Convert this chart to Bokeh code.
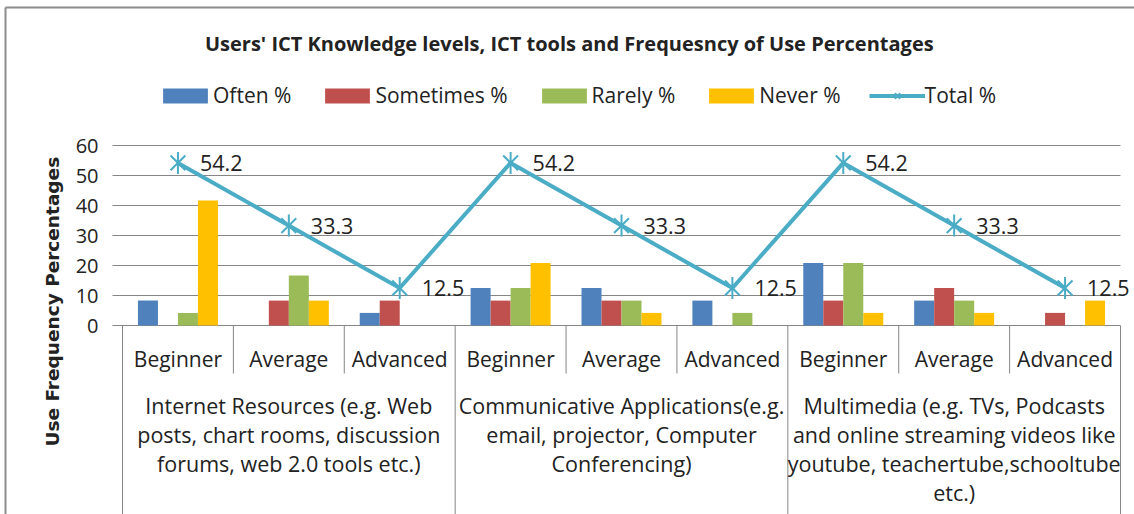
import math
from bokeh.plotting import figure
from bokeh.models import Range1d, Legend, LegendItem
from bokeh.core.properties import value
from bokeh.embed import file_html
from bokeh.resources import INLINE

# ---------------- data ----------------
title = "Users' ICT Knowledge levels, ICT tools and  Frequesncy  of Use Percentages"
y_title = "Use Frequency  Percentages"
groups = [
    "Internet Resources (e.g. Web\nposts, chart rooms, discussion\nforums, web 2.0 tools etc.)",
    "Communicative Applications(e.g.\nemail, projector, Computer\nConferencing)",
    "Multimedia (e.g. TVs, Podcasts\nand online streaming videos like\nyoutube, teachertube,schooltube\netc.)",
]
levels = ["Beginner", "Average", "Advanced"]
series_names = ["Often %", "Sometimes %", "Rarely %", "Never %"]
often = [8.3, 0, 4.2, 12.5, 12.5, 8.3, 20.8, 8.3, 0]
sometimes = [0, 8.3, 8.3, 8.3, 8.3, 0, 8.3, 12.5, 4.2]
rarely = [4.2, 16.7, 0, 12.5, 8.3, 4.2, 20.8, 8.3, 0]
never = [41.7, 8.3, 0, 20.8, 4.2, 0, 4.2, 4.2, 8.3]
total = [54.2, 33.3, 12.5, 54.2, 33.3, 12.5, 54.2, 33.3, 12.5]
y_ticks = [0, 10, 20, 30, 40, 50, 60]

colors = ["#4F81BD", "#C0504D", "#9BBB59", "#FFC000"]
total_color = "#4BACC6"
grid_color = "#868686"
text_color = "#222222"
FONT = "Open Sans"

# ---------------- geometry (page pixels) ----------------
W, H = 1134, 514
FL, FT = 5, 7                 # outer border left / top
PL, PR = 122, 1120            # plot area left / right
P0 = 325                      # y = 0 line
PPU = 3.0                     # px per y unit
n_cat = len(levels) * len(groups)
xu = (PR - PL) / n_cat        # px per category


def fx(ix):
    return (ix - PL) / xu


def fy(iy):
    return (P0 - iy) / PPU


p = figure(width=W, height=H, output_backend="svg", toolbar_location=None,
           x_range=Range1d(fx(0), fx(W)), y_range=Range1d(fy(H), fy(0)),
           min_border=0)
p.axis.visible = False
p.xgrid.visible = False
p.ygrid.visible = False
p.outline_line_color = None
p.background_fill_color = "white"

# outer chart border (left and top edges visible)
p.segment(x0=[fx(FL), fx(FL)], x1=[fx(FL), fx(W + 10)], y0=[fy(FT), fy(FT)],
          y1=[fy(H + 10), fy(FT)], line_color="#8c8c8c", line_width=2)

centers = [i + 0.5 for i in range(n_cat)]

# gridlines (with outside tick stubs)
p.segment(x0=[fx(112)] * len(y_ticks), x1=[n_cat] * len(y_ticks), y0=y_ticks, y1=y_ticks,
          line_color=grid_color, line_width=1)
# tick labels
p.text(x=[fx(98)] * len(y_ticks), y=y_ticks, text=[str(t) for t in y_ticks],
       text_align="right", text_baseline="middle", text_font=value(FONT),
       text_font_size="20px", text_color=text_color)

# category separators
inner = [i for i in range(1, n_cat) if i % len(levels) != 0]
outer = [i for i in range(0, n_cat + 1) if i % len(levels) == 0]
p.segment(x0=inner, x1=inner, y0=[0] * len(inner), y1=[fy(373)] * len(inner),
          line_color=grid_color, line_width=1)
p.segment(x0=outer, x1=outer, y0=[0] * len(outer), y1=[fy(520)] * len(outer),
          line_color=grid_color, line_width=1)

# bars
bw = 20 / xu
series = [often, sometimes, rarely, never]
bar_renderers = []
for k, (vals, col) in enumerate(zip(series, colors)):
    off = (k - 1.5) * bw
    r = p.vbar(x=[c + off for c in centers], top=vals, bottom=0, width=bw,
               fill_color=col, line_color=None)
    bar_renderers.append(r)

# total line
lr = p.line(centers, total, line_color=total_color, line_width=4)
m1 = p.scatter(centers, total, marker="x", size=21, line_color=total_color, line_width=2)
m2 = p.scatter(centers, total, marker="dash", angle=math.pi / 2, size=22,
               line_color=total_color, line_width=2)
p.text(x=centers, y=total, text=[f"{v:.1f}" for v in total], x_offset=22,
       text_baseline="middle", text_font=value(FONT), text_font_size="21.5px",
       text_color=text_color)

# level labels
p.text(x=centers, y=[fy(358)] * n_cat, text=levels * len(groups),
       text_align="center", text_baseline="middle", text_font=value(FONT),
       text_font_size="21px", text_color=text_color)

# group labels
gx, gy, gt = [], [], []
for g, lab in enumerate(groups):
    for j, line in enumerate(lab.split("\n")):
        gx.append(g * len(levels) + len(levels) / 2)
        gy.append(fy(405 + 29 * j))
        gt.append(line)
p.text(x=gx, y=gy, text=gt, text_align="center", text_baseline="middle",
       text_font=value(FONT), text_font_size="21.5px", text_color=text_color)

# title and y-axis title
p.text(x=[fx(574)], y=[fy(43)], text=[title], text_align="center", text_baseline="middle",
       text_font=value(FONT), text_font_size="20px", text_font_style="bold",
       text_color=text_color)
p.text(x=[fx(52)], y=[fy(298)], text=[y_title], angle=math.pi / 2, text_align="center",
       text_baseline="middle", text_font=value("DejaVu Sans"), text_font_size="18.5px",
       text_font_style="bold", text_color=text_color)

# legend
items = [LegendItem(label=n, renderers=[r]) for n, r in zip(series_names, bar_renderers)]
items.append(LegendItem(label="Total %", renderers=[lr, m1, m2]))
legend = Legend(items=items, orientation="horizontal", location=(157, 405),
                glyph_width=56, glyph_height=19, label_standoff=0, spacing=28,
                padding=0, margin=0, border_line_color=None, background_fill_alpha=0,
                label_text_font=FONT, label_text_font_size="21px",
                label_text_color=text_color, label_height=19)
p.add_layout(legend)

open("out.html", "w").write(file_html(p, INLINE))
